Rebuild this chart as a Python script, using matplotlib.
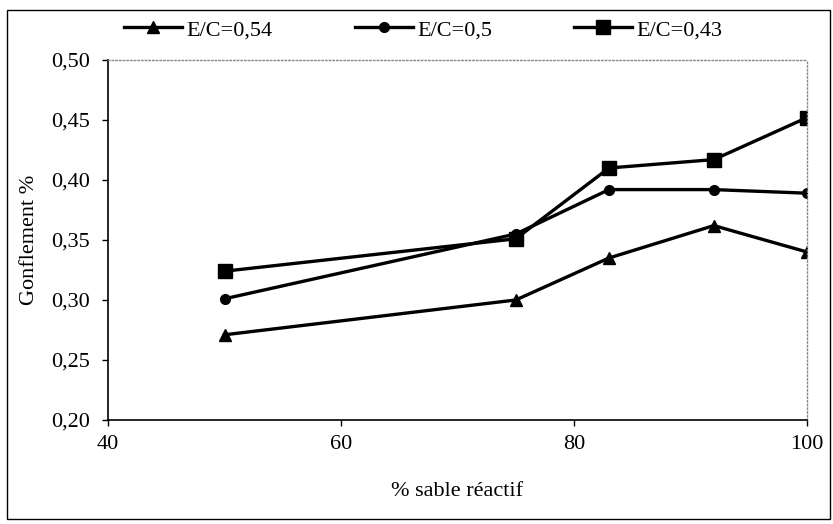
import matplotlib
matplotlib.use('Agg')
import matplotlib.pyplot as plt
from matplotlib.patches import Rectangle
from matplotlib.ticker import FuncFormatter

# Données
sable = [50, 75, 83, 92, 100]
ec_054 = [0.271, 0.300, 0.335, 0.362, 0.340]
ec_050 = [0.301, 0.355, 0.392, 0.392, 0.389]
ec_043 = [0.324, 0.351, 0.410, 0.417, 0.452]
labels = ['E/C=0,54', 'E/C=0,5', 'E/C=0,43']

plt.rcParams['font.family'] = 'Liberation Serif'
plt.rcParams['font.size'] = 16

fig = plt.figure(figsize=(8.33, 5.24), dpi=100)
ax = fig.add_axes([0.1297, 0.1985, 0.8391, 0.687])

ax.plot(sable, ec_054, color='black', lw=2.4, marker='^', ms=9, label=labels[0])
ax.plot(sable, ec_050, color='black', lw=2.4, marker='o', ms=7, label=labels[1])
ax.plot(sable, ec_043, color='black', lw=2.4, marker='s', ms=10, label=labels[2])

ax.set_xlim(40, 100)
ax.set_ylim(0.20, 0.50)
ax.set_xticks([40, 60, 80, 100])
ax.set_yticks([0.20, 0.25, 0.30, 0.35, 0.40, 0.45, 0.50])
ax.yaxis.set_major_formatter(FuncFormatter(lambda v, p: f'{v:.2f}'.replace('.', ',')))
ax.tick_params(axis='y', direction='out', length=4, width=1, pad=9, labelsize=16)
ax.tick_params(axis='x', direction='out', length=4, width=1, pad=7, labelsize=16)

for s in ['top', 'right']:
    ax.spines[s].set_color('#888888')
    ax.spines[s].set_linestyle(':')
    ax.spines[s].set_linewidth(1)
for s in ['left', 'bottom']:
    ax.spines[s].set_linewidth(1.2)

ax.set_xlabel('% sable réactif', fontsize=16, labelpad=20)
ax.set_ylabel('Gonflement %', fontsize=16, labelpad=9)

fig.legend(loc='center left', bbox_to_anchor=(0.136, 0.943), ncol=3, frameon=False,
           borderpad=0, handlelength=2.6, handletextpad=0.2, columnspacing=3.7, fontsize=16)

# cadre extérieur
fig.patches.append(Rectangle((0.0084, 0.0095), 0.988, 0.972, transform=fig.transFigure,
                             fill=False, edgecolor='black', lw=1))

plt.savefig('out.png', dpi=100)
